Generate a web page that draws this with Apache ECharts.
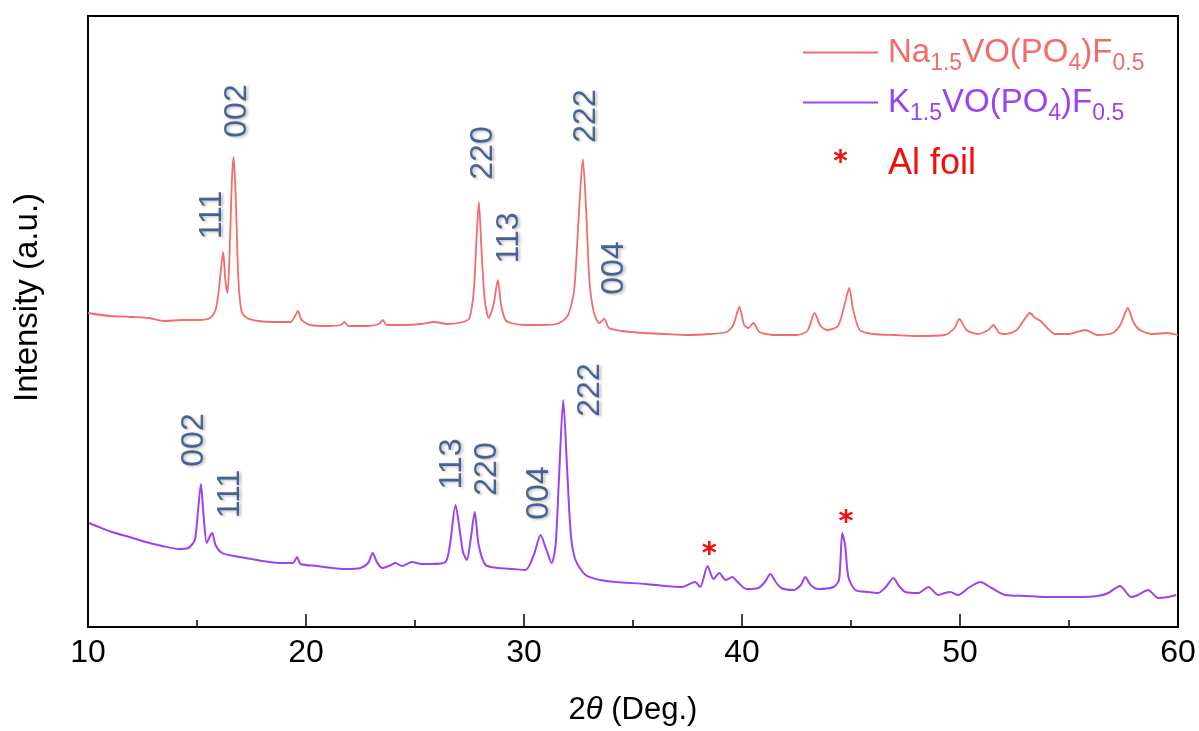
<!DOCTYPE html>
<html>
<head>
<meta charset="utf-8">
<script src="https://cdn.jsdelivr.net/npm/echarts@6/dist/echarts.min.js"></script>
<style>
html,body{margin:0;padding:0;background:#fff;}
#chart{width:1199px;height:731px;}
</style>
</head>
<body>
<div id="chart"></div>
<script>
// ---- data (2θ in degrees, intensity in arbitrary units) ----
const naX = [10.0,11.0,12.0,12.8,13.5,14.3,15.1,15.6,15.85,16.0,16.12,16.2,16.3,16.4,16.5,16.6,16.68,16.78,16.9,17.05,17.3,17.8,18.5,19.3,19.5,19.63,19.8,20.2,21.0,21.6,21.76,21.95,22.8,23.35,23.52,23.7,24.5,25.3,25.86,26.5,27.2,27.5,27.7,27.82,27.93,28.05,28.2,28.38,28.6,28.8,28.95,29.15,29.4,30.0,30.8,31.5,32.0,32.3,32.5,32.7,32.85,33.0,33.2,33.45,33.68,33.9,34.5,35.5,36.5,37.5,38.5,39.3,39.6,39.88,40.1,40.3,40.52,40.8,41.5,42.5,43.0,43.33,43.6,43.9,44.4,44.7,44.92,45.1,45.4,46.0,47.0,48.0,49.3,49.75,49.97,50.3,50.8,51.3,51.53,51.8,52.1,52.6,53.0,53.2,53.45,53.7,54.0,54.35,55.0,55.74,56.3,57.0,57.35,57.7,57.95,58.25,58.8,59.5,60.0];
const naY = [314,311,310,309,306,307,307,309,317,337,362,375,347,334,377,447,470,427,347,315,309,306,305,305,311,316,307,302,301,302,305,301,301,303,307,302,302,303,305,303,305,309,337,387,425,377,327,309,322,347,322,307,304,302,302,303,311,337,407,468,417,347,315,304,308,299,296,294,293,292,293,295,302,320,302,299,304,295,292,292,296,314,301,297,301,322,339,317,297,293,292,291,292,299,308,297,293,297,302,294,293,297,309,314,309,306,299,293,293,297,292,294,302,319,305,297,293,294,292];

const kX = [10.05,10.5,11.1,11.9,12.65,13.4,14.17,14.6,14.9,15.05,15.18,15.3,15.45,15.6,15.7,15.85,16.15,16.7,17.24,18.0,18.75,19.4,19.59,19.75,20.5,21.2,21.8,22.5,22.85,23.06,23.25,23.5,23.9,24.1,24.4,24.86,25.3,25.77,26.4,26.6,26.86,27.05,27.2,27.38,27.55,27.74,27.92,28.24,28.84,29.5,30.07,30.45,30.76,31.0,31.27,31.45,31.6,31.8,31.98,32.15,32.36,32.82,33.5,34.2,35.57,36.5,37.24,37.85,38.08,38.42,38.69,38.96,39.25,39.55,39.8,40.2,40.75,41.05,41.3,41.55,41.8,42.36,42.7,42.9,43.15,43.5,44.2,44.45,44.6,44.73,44.88,45.2,45.8,46.25,46.6,46.94,47.2,47.5,48.1,48.55,49.0,49.3,49.55,49.92,50.38,50.93,51.45,52.07,53.0,53.9,55.42,56.3,56.8,57.34,57.85,58.17,58.63,59.09,59.55,59.92];
const kY = [104,100,95,90,85,81,78,79,87,117,143,112,84,91,94,82,74,71,69,66,64,64,70,63,61,59,58,59,64,74,65,59,62,64,61,65,63,63,65,82,122,97,75,67,87,115,82,62,59,58,57,72,92,79,64,82,147,227,157,92,67,52,47,45,43,41,40,45,40,61,48,54,47,50,45,38,39,45,53,45,39,37,42,50,42,38,40,47,94,82,50,37,35,34,40,49,41,35,34,40,32,34,35,32,39,45,39,32,31,30,30,31,34,41,30,32,37,29,30,32];

// Al foil reflections (asterisk markers)
const alX = [38.5, 44.77];
const alY = [79, 111];

// Miller-index annotations
const naPeakNames = ['111','002','220','113','222','004'];
const naPeakX = [15.69,16.83,28.12,29.31,32.84,34.13];
const naPeakY = [412,516,474,389,511,359];
const kPeakNames = ['002','111','113','220','004','222'];
const kPeakX = [14.86,16.51,26.70,28.30,30.69,33.03];
const kPeakY = [187,133,163,158,134,237];

const xTicks = [10,20,30,40,50,60];

// ---- build ----
const FONT = 'Liberation Sans, Arial, sans-serif';
const naColor = '#F26C6C';
const kColor = '#9B42F2';
const alColor = '#F01010';
const labelColor = '#234580';
const starPath = 'path://M42 5 L58 5 L58 95 L42 95 Z M7 34.4 L15 20.6 L93 65.6 L85 79.4 Z M85 20.6 L93 34.4 L15 79.4 L7 65.6 Z';
const lineIcon = 'path://M0 0 L100 0 L100 2.6 L0 2.6 Z';

const zip = (xs, ys) => xs.map((x, i) => [x, ys[i]]);
const zipNamed = (ns, xs, ys) => ns.map((n, i) => ({name: n, value: [xs[i], ys[i]]}));

function richFor(color) {
  return {
    n: {fontSize: 33, lineHeight: 36, color: color, fontFamily: FONT},
    s: {fontSize: 23, lineHeight: 23, padding: [22, 0, 0, 0], color: color, fontFamily: FONT},
    a: {fontSize: 36, lineHeight: 40, padding: [16, 0, 0, 0], color: color, fontFamily: FONT}
  };
}
const legendText = {
  'Na1.5VO(PO4)F0.5': '{n|Na}{s|1.5}{n|VO(PO}{s|4}{n|)F}{s|0.5}',
  'K1.5VO(PO4)F0.5': '{n|K}{s|1.5}{n|VO(PO}{s|4}{n|)F}{s|0.5}',
  'Al foil': '{a|Al foil}'
};

const peakLabel = {
  show: true, position: 'inside', rotate: 90, formatter: p => p.name,
  fontSize: 32, fontFamily: FONT, color: labelColor,
  textShadowColor: 'rgba(0,0,0,0.35)', textShadowBlur: 3,
  textShadowOffsetX: 2, textShadowOffsetY: 1
};

const chart = echarts.init(document.getElementById('chart'), null, {renderer: 'canvas'});
chart.setOption({
  animation: false,
  backgroundColor: '#fff',
  grid: {left: 88, right: 21, top: 16, bottom: 104, show: true, borderColor: '#000', borderWidth: 2, backgroundColor: 'transparent'},
  legend: {
    left: 803, top: 30, orient: 'vertical', padding: 0, itemWidth: 75, itemHeight: 14, itemGap: 5,
    formatter: name => legendText[name],
    textStyle: {fontFamily: FONT, padding: [0, 0, 0, 5]},
    data: [
      {name: 'Na1.5VO(PO4)F0.5', icon: lineIcon, itemStyle: {color: naColor}, textStyle: {color: naColor, rich: richFor(naColor)}},
      {name: 'K1.5VO(PO4)F0.5', icon: lineIcon, itemStyle: {color: kColor}, textStyle: {color: kColor, rich: richFor(kColor)}},
      {name: 'Al foil', textStyle: {color: alColor, rich: richFor(alColor)}}
    ]
  },
  xAxis: {
    type: 'value', min: xTicks[0], max: xTicks[xTicks.length - 1], interval: 10,
    name: '{n|2}{i|θ}{n| (Deg.)}', nameLocation: 'middle', nameGap: 68,
    nameTextStyle: {rich: {
      n: {fontSize: 31, fontFamily: FONT, color: '#000'},
      i: {fontSize: 31, fontFamily: FONT, fontStyle: 'italic', color: '#000'}
    }},
    axisLine: {show: true, lineStyle: {color: '#000', width: 2}},
    axisTick: {show: true, inside: true, length: 13, lineStyle: {color: '#000', width: 1.5}},
    minorTick: {show: true, splitNumber: 2, length: 7, lineStyle: {color: '#000', width: 1.5}},
    axisLabel: {fontSize: 32, fontFamily: FONT, color: '#000', margin: 10},
    splitLine: {show: false}
  },
  yAxis: {
    type: 'value', min: 0, max: 611,
    name: 'Intensity (a.u.)', nameLocation: 'middle', nameGap: 44,
    nameTextStyle: {fontSize: 33, fontFamily: FONT, color: '#000', padding: [0, 0, 0, 48]},
    axisLine: {show: true, lineStyle: {color: '#000', width: 2}},
    axisTick: {show: false}, axisLabel: {show: false}, splitLine: {show: false}
  },
  series: [
    {name: 'Na1.5VO(PO4)F0.5', type: 'line', data: zip(naX, naY), symbol: 'none', smooth: 0.25,
     lineStyle: {color: naColor, width: 1.8}, itemStyle: {color: naColor}, z: 3},
    {name: 'K1.5VO(PO4)F0.5', type: 'line', data: zip(kX, kY), symbol: 'none', smooth: 0.25,
     lineStyle: {color: kColor, width: 2}, itemStyle: {color: kColor}, z: 3},
    {name: 'Al foil', type: 'scatter', data: zip(alX, alY), symbol: starPath, symbolSize: 14,
     itemStyle: {color: alColor, opacity: 1}, z: 4},
    {name: 'naPeaks', type: 'scatter', data: zipNamed(naPeakNames, naPeakX, naPeakY), symbolSize: 0,
     label: peakLabel, silent: true, z: 5},
    {name: 'kPeaks', type: 'scatter', data: zipNamed(kPeakNames, kPeakX, kPeakY), symbolSize: 0,
     label: peakLabel, silent: true, z: 5}
  ]
});
</script>
</body>
</html>
